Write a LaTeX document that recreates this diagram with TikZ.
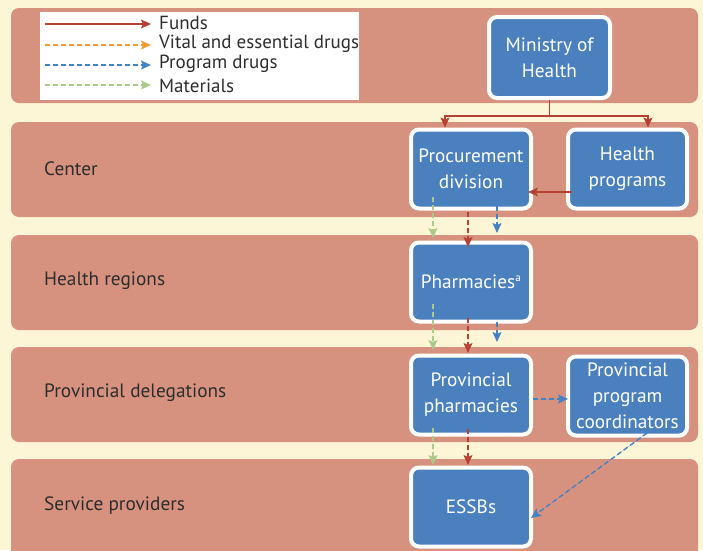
\documentclass[tikz,border=0pt]{standalone}
\usepackage{fontspec}
\setmainfont{PT Sans}
\usetikzlibrary{arrows.meta,calc}
\definecolor{cream}{RGB}{253,246,214}
\definecolor{band}{RGB}{214,146,126}
\definecolor{boxblue}{RGB}{74,128,190}
\definecolor{fundred}{RGB}{183,64,52}
\definecolor{vitalorange}{RGB}{240,160,50}
\definecolor{progblue}{RGB}{70,130,195}
\definecolor{matgreen}{RGB}{172,202,140}
\definecolor{labelgray}{RGB}{45,45,45}
\tikzset{
  bandbox/.style={fill=band,draw=none,rounded corners=8pt},
  unit/.style={draw=white,line width=4pt,fill=boxblue,rounded corners=8pt,
    minimum width=120pt,minimum height=79pt,text=white,align=center,
    font=\fontsize{19.3}{26}\selectfont,inner sep=0pt},
  lvl/.style={anchor=west,text=labelgray,font=\fontsize{19.3}{22}\selectfont,inner sep=0pt},
  legtext/.style={anchor=west,text=labelgray,font=\fontsize{19}{20}\selectfont,inner sep=0pt},
  tip/.style={-{Stealth[length=10pt,width=9pt,inset=2pt]}},
  fund/.style={draw=fundred,line width=1.4pt},
  vital/.style={draw=vitalorange,line width=1.4pt,dash pattern=on 5pt off 3pt},
  prog/.style={draw=progblue,line width=1.4pt,dash pattern=on 5pt off 3pt},
  mat/.style={draw=matgreen,line width=1.4pt,dash pattern=on 5pt off 3pt},
}
\begin{document}
\begin{tikzpicture}[x=1pt,y=-1pt]
\useasboundingbox (0,0) rectangle (703,550);
\fill[cream] (0,0) rectangle (703,550);
% bands
\fill[bandbox] (11,8) rectangle (698,103);
\fill[bandbox] (11,122) rectangle (698,217);
\fill[bandbox] (11,235) rectangle (698,330);
\fill[bandbox] (11,347) rectangle (698,442);
\fill[bandbox] (11,459) rectangle (698,560);
% legend
\fill[white] (40,12) rectangle (359,100);
\coordinate (l1s) at (45,24);  \coordinate (l1e) at (151,24);
\coordinate (l2s) at (45,45);  \coordinate (l2e) at (151,45);
\coordinate (l3s) at (45,65);  \coordinate (l3e) at (151,65);
\coordinate (l4s) at (45,85);  \coordinate (l4e) at (151,85);
\draw[fund,tip] (l1s) -- (l1e);
\draw[vital,tip,fill=vitalorange] (l2s) -- (l2e);
\draw[prog,tip,fill=progblue] (l3s) -- (l3e);
\draw[mat,tip,fill=matgreen] (l4s) -- (l4e);
\node[legtext] (t1) at (159,23) {Funds};
\node[legtext] (t2) at (159,44) {Vital and essential drugs};
\node[legtext] (t3) at (159,64) {Program drugs};
\node[legtext] (t4) at (159,86) {Materials};
% level labels
\node[lvl] (lc) at (44,169) {Center};
\node[lvl] (lh) at (44,281) {Health regions};
\node[lvl] (lp) at (44,393) {Provincial delegations};
\node[lvl] (ls) at (44,506) {Service providers};
% boxes
\node[unit,minimum width=121pt,minimum height=81pt] (min) at (549.5,57.5) {Ministry of\\Health};
\node[unit] (proc) at (471,169) {Procurement\\division};
\node[unit,minimum width=119pt] (hp) at (627.5,169) {Health\\programs};
\node[unit] (ph) at (471,282) {Pharmacies\textsuperscript{\fontsize{11}{11}\selectfont a}};
\node[unit] (pp) at (471,395) {Provincial\\pharmacies};
\node[unit,minimum width=119pt] (pc) at (627.5,396) {Provincial\\program\\coordinators};
\node[unit] (es) at (471,507) {ESSBs};
% funds from ministry
\coordinate (jn) at (549.5,116);
\draw[fund] (min.south) -- (jn);
\draw[fund,tip] (jn) -| ($(proc.north)+(-26,0)$);
\draw[fund,tip] (jn) -| ($(hp.north)+(20.5,0)$);
\draw[fund,tip] ($(hp)+(-55.5,23)$) -- ($(proc)+(57,23)$);
% procurement -> pharmacies
\draw[mat,tip,fill=matgreen] ($(proc)+(-38,28)$) -- ($(ph)+(-38,-44)$);
\draw[fund,tip,fill=fundred,dash pattern=on 5pt off 3pt] ($(proc)+(-3,43)$) -- ($(ph)+(-3,-35)$);
\draw[prog,tip,fill=progblue] ($(proc)+(26,29)$) -- ($(ph)+(26,-49)$);
% pharmacies -> provincial pharmacies
\draw[mat,tip,fill=matgreen] ($(ph)+(-38,22)$) -- ($(pp)+(-38,-45)$);
\draw[fund,tip,fill=fundred,dash pattern=on 5pt off 3pt] ($(ph)+(-3,36)$) -- ($(pp)+(-3,-42)$);
\draw[prog,tip,fill=progblue] ($(ph)+(26,24)$) -- ($(pp)+(26,-53)$);
% provincial pharmacies -> ESSBs
\draw[mat,tip,fill=matgreen] ($(pp)+(-38,33)$) -- ($(es)+(-38,-42)$);
\draw[fund,tip,fill=fundred,dash pattern=on 5pt off 3pt] ($(pp)+(-3,34)$) -- ($(es)+(-3,-42)$);
% program flows
\draw[prog,tip,fill=progblue] ($(pp)+(62,4)$) -- ($(pc)+(-59.5,3)$);
\draw[prog,tip,fill=progblue] ($(pc)+(19.5,37)$) -- ($(es)+(60,11)$);
\end{tikzpicture}
\end{document}
